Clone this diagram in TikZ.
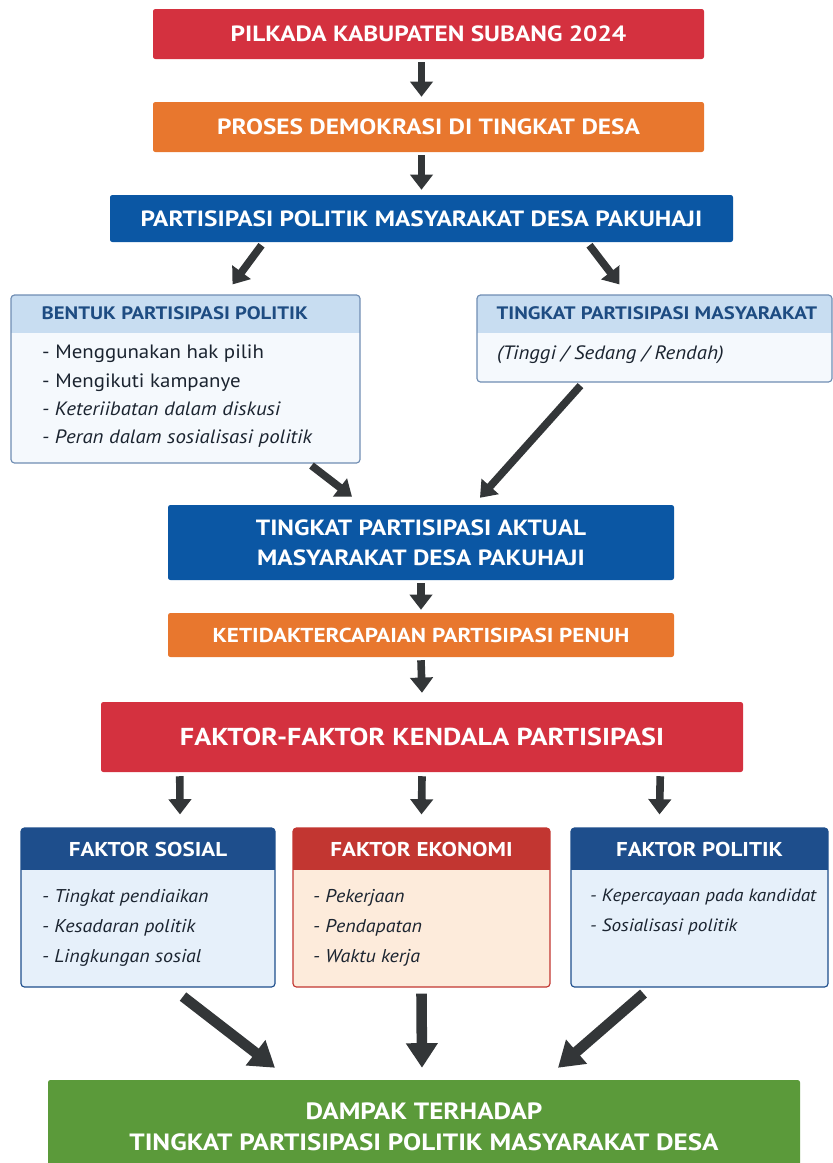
\documentclass[tikz,border=0pt]{standalone}
\usepackage{fontspec}
\setmainfont{PT Sans}[UprightFeatures={FakeStretch=1.08}, ItalicFeatures={FakeStretch=1.08},
  BoldFeatures={FakeStretch=1.15}]
\usetikzlibrary{arrows.meta,calc,positioning}

\definecolor{pkred}{HTML}{D4313F}
\definecolor{pkorange}{HTML}{E8772E}
\definecolor{pkblue}{HTML}{0B57A4}
\definecolor{pkgreen}{HTML}{5B9A3A}
\definecolor{arrgray}{HTML}{333638}
\definecolor{hdlight}{HTML}{C8DDF1}
\definecolor{hddark}{HTML}{1E4C82}
\definecolor{pnline}{HTML}{6F8DB3}
\definecolor{pnbody}{HTML}{F5F9FD}
\definecolor{fkblue}{HTML}{1E4E8C}
\definecolor{fkred}{HTML}{C23631}
\definecolor{fkbody}{HTML}{E6F0FA}
\definecolor{ekbody}{HTML}{FDEBDB}
\definecolor{itemtext}{HTML}{1B2430}

\newcommand{\pix}{0.03cm}

\begin{document}
\begin{tikzpicture}[x=0.03cm, y=-0.03cm,
  bar/.style={fill=#1, text=white, rounded corners=2pt, inner sep=0pt, align=center,
    font=\bfseries\fontsize{18.8}{25.5}\selectfont},
  panel/.style 2 args={draw=#1, fill=#2, line width=1pt, rounded corners=3pt, inner sep=0pt},
  panelhd/.style 2 args={path picture={\fill[#1, sharp corners] (path picture bounding box.north west)
    rectangle ([yshift=-#2*\pix]path picture bounding box.north east);}},
  hdtext/.style={text=#1, font=\bfseries\fontsize{15.4}{18}\selectfont, inner sep=0pt},
  items/.style={text=itemtext, align=left, inner sep=0pt, anchor=north west,
    font=\fontsize{16.5}{24}\selectfont},
  arr/.style={draw=arrgray, line width=6.5pt, -{Triangle[width=19pt,length=13pt]}},
  bigarr/.style={draw=arrgray, line width=9pt, -{Triangle[width=26pt,length=21pt]}}]

  \useasboundingbox (0,0) rectangle (833,1163);

  % top of the flow
  \node[bar=pkred, minimum width=551*\pix, minimum height=50*\pix] (pilkada) at (428.5,34)
    {PILKADA KABUPATEN SUBANG 2024};
  \node[bar=pkorange, minimum width=551*\pix, minimum height=50*\pix] (proses) at (428.5,127)
    {PROSES DEMOKRASI DI TINGKAT DESA};
  \node[bar=pkblue, minimum width=623*\pix, minimum height=47*\pix] (partisipasi) at (421.5,218.5)
    {PARTISIPASI POLITIK MASYARAKAT DESA PAKUHAJI};

  \draw[arr] ($(pilkada.south -| partisipasi.center)+(0,3)$) -- ($(proses.north -| partisipasi.center)+(0,-5)$);
  \draw[arr] ($(proses.south -| partisipasi.center)+(0,3)$) -- ($(partisipasi.north)+(0,-5)$);

  % two panels
  \node[panel={pnline}{pnbody}, panelhd={hdlight}{38}, minimum width=349*\pix, minimum height=168*\pix]
    (bentuk) at (185.5,379) {};
  \node[hdtext=hddark, anchor=west] (bentukhd) at ($(bentuk.north west)+(31,19)$)
    {BENTUK PARTISIPASI POLITIK};
  \node[items] (bentukit) at (42,345)
    {- Menggunakan hak pilih\\- Mengikuti kampanye\\\textit{- Keteriibatan dalam diskusi}\\\textit{- Peran dalam sosialisasi politik}};

  \node[panel={pnline}{pnbody}, panelhd={hdlight}{38}, minimum width=355*\pix, minimum height=87*\pix]
    (tingkat) at (654.5,338.5) {};
  \node[hdtext=hddark, anchor=west] (tingkathd) at ($(tingkat.north west)+(20,19)$)
    {TINGKAT PARTISIPASI MASYARAKAT};
  \node[items] (tingkatit) at (497,345) {\textit{(Tinggi / Sedang / Rendah)}};

  \draw[arr] ($(partisipasi.south)+(-160,3)$) -- ($(bentuk.north)+(47,-10)$);
  \draw[arr] ($(partisipasi.south)+(168,3)$) -- ($(tingkat.north)+(-35,-10)$);

  % middle of the flow
  \node[bar=pkblue, minimum width=506*\pix, minimum height=75*\pix] (aktual) at (421,542.5)
    {TINGKAT PARTISIPASI AKTUAL\\MASYARAKAT DESA PAKUHAJI};
  \node[bar=pkorange, minimum width=506*\pix, minimum height=44*\pix,
    font=\bfseries\fontsize{17.2}{20}\selectfont] (penuh) at (421,635)
    {KETIDAKTERCAPAIAN PARTISIPASI PENUH};
  \node[bar=pkred, minimum width=642*\pix, minimum height=70*\pix,
    font=\bfseries\fontsize{20.9}{24}\selectfont] (kendala) at (422,737)
    {FAKTOR-FAKTOR KENDALA PARTISIPASI};

  \draw[arr] ($(bentuk.south)+(126,2)$) -- ($(aktual.north)+(-69,-8)$);
  \draw[arr] ($(tingkat.south)+(-74,3)$) -- ($(aktual.north)+(59,-7)$);
  \draw[arr] ($(aktual.south)+(0,3)$) -- ($(penuh.north)+(0,-3)$);
  \draw[arr] ($(penuh.south)+(0,3)$) -- ($(kendala.north)+(0,-9)$);

  % three factors
  \node[panel={fkblue}{fkbody}, panelhd={fkblue}{42}, minimum width=254*\pix, minimum height=159*\pix]
    (sosial) at (148,907.5) {};
  \node[panel={fkred}{ekbody}, panelhd={fkred}{42}, minimum width=257*\pix, minimum height=159*\pix]
    (ekonomi) at (421.5,907.5) {};
  \node[panel={fkblue}{fkbody}, panelhd={fkblue}{42}, minimum width=257*\pix, minimum height=159*\pix]
    (politik) at (699.5,907.5) {};

  \node[hdtext=white, font=\bfseries\fontsize{17.1}{18}\selectfont] (sosialhd) at ($(sosial.north)+(0,22)$) {FAKTOR SOSIAL};
  \node[hdtext=white, font=\bfseries\fontsize{17.1}{18}\selectfont] (ekonomihd) at ($(ekonomi.north)+(0,22)$) {FAKTOR EKONOMI};
  \node[hdtext=white, font=\bfseries\fontsize{17.1}{18}\selectfont] (politikhd) at ($(politik.north)+(0,22)$) {FAKTOR POLITIK};

  \node[items, font=\itshape\fontsize{15.8}{25.5}\selectfont] (sosialit) at (42,889)
    {- Tingkat pendiaikan\\- Kesadaran politik\\- Lingkungan sosial};
  \node[items, font=\itshape\fontsize{15.8}{25.5}\selectfont] (ekonomiit) at (313,889)
    {- Pekerjaan\\- Pendapatan\\- Waktu kerja};
  \node[items, font=\itshape\fontsize{15.2}{25.5}\selectfont] (politikit) at (590,889)
    {- Kepercayaan pada kandidat\\- Sosialisasi politik};

  \draw[arr] ($(kendala.south west)+(79,4)$) -- ($(sosial.north)+(32,-13)$);
  \draw[arr] ($(kendala.south)+(0,4)$) -- ($(ekonomi.north)+(0,-13)$);
  \draw[arr] ($(kendala.south east)+(-83,4)$) -- ($(politik.north)+(-40,-13)$);

  % bottom
  \node[bar=pkgreen, minimum width=752*\pix, minimum height=94*\pix,
    font=\bfseries\fontsize{20.1}{26.4}\selectfont] (dampak) at (424,1127)
    {DAMPAK TERHADAP\\TINGKAT PARTISIPASI POLITIK MASYARAKAT DESA};

  \draw[bigarr] ($(sosial.south)+(35,9)$) -- ($(dampak.north)+(-149,-12)$);
  \draw[bigarr] ($(ekonomi.south)+(0,6)$) -- ($(dampak.north)+(-2,-12)$);
  \draw[bigarr] ($(politik.south)+(-56,6)$) -- ($(dampak.north)+(134,-12)$);
\end{tikzpicture}
\end{document}
